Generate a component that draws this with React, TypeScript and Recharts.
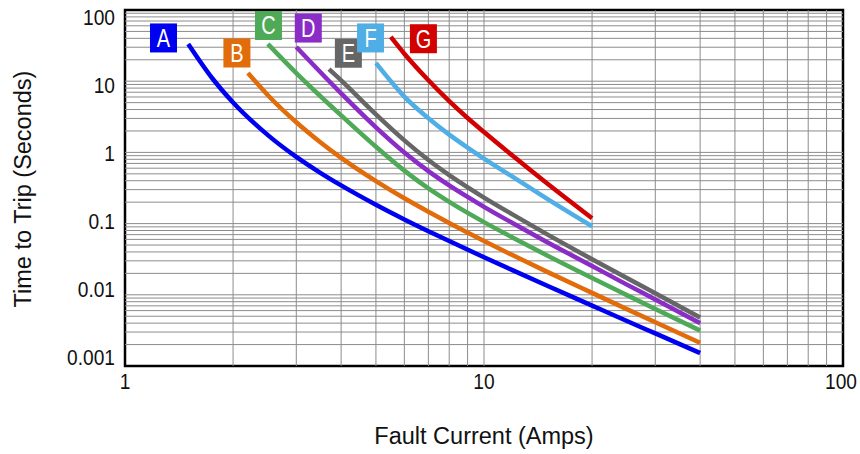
import React from 'react';
import { LineChart, Line, XAxis, YAxis, ReferenceLine, ReferenceDot, ReferenceArea } from 'recharts';

const FONT = "'Liberation Sans', Arial, sans-serif";

const curveNames = ['A', 'B', 'C', 'D', 'E', 'F', 'G'];
const curveColors = ['#0000f0', '#e26b0a', '#4faa58', '#8a2cc6', '#666666', '#4faee6', '#d20000'];

// fault current (A) / time to trip (s)
const ampsA = [1.5, 1.75, 2, 2.5, 3, 3.5, 4, 5, 6, 7, 8, 10, 12, 15, 20, 25, 30, 40];
const secsA = [33.3, 11.0, 5.02, 1.75, 0.865, 0.517, 0.344, 0.184, 0.1145, 0.0782, 0.0568, 0.0337, 0.0222, 0.0134, 0.00705, 0.00428, 0.00287, 0.00152];

const ampsB = [2.2, 2.5, 3, 3.5, 4, 5, 6, 7, 8, 10, 12, 15, 20, 25, 30, 40];
const secsB = [13.0, 6.36, 2.65, 1.39, 0.837, 0.395, 0.2265, 0.1466, 0.1019, 0.057, 0.0361, 0.021, 0.01064, 0.0063, 0.00412, 0.00212];

const ampsC = [2.5, 3, 4, 5, 6, 7, 8, 10, 12, 15, 20, 25, 30, 40];
const secsC = [33.3, 13.0, 3.31, 1.2, 0.555, 0.312, 0.202, 0.105, 0.064, 0.0356, 0.0172, 0.0099, 0.00632, 0.00314];

const ampsD = [3, 4, 5, 6, 7, 8, 10, 12, 15, 20, 25, 30, 40];
const secsD = [30.2, 6.74, 2.25, 0.997, 0.545, 0.343, 0.172, 0.102, 0.0548, 0.0254, 0.0139, 0.00861, 0.00398];

const ampsE = [3.7, 4, 5, 6, 7, 8, 10, 12, 15, 20, 25, 30, 40];
const secsE = [14.8, 10.3, 3.42, 1.475, 0.78, 0.479, 0.232, 0.1346, 0.0705, 0.0316, 0.0172, 0.01052, 0.0048];

const ampsF = [5, 5.5, 6, 7, 8, 9, 10, 12, 15, 20];
const secsF = [18.0, 10.0, 6.08, 3.02, 1.78, 1.17, 0.82, 0.456, 0.223, 0.0917];

const ampsG = [5.5, 6, 7, 8, 9, 10, 12, 15, 20];
const secsG = [41.8, 24.3, 10.3, 5.24, 3.04, 1.93, 0.902, 0.365, 0.1186];

// where the letter badges sit
const labelAmps = [1.28, 2.05, 2.51, 3.24, 4.19, 4.83, 6.78];
const labelSecs = [40.5, 24.9, 60.6, 55.8, 24.7, 40.5, 39.5];

const xTicks = [1, 10, 100];
const yTicks = [0.001, 0.01, 0.1, 1, 10, 100];
const xDecades = [1, 10];
const yDecades = [0.001, 0.01, 0.1, 1, 10];
const multipliers = [1, 2, 3, 4, 5, 6, 7, 8, 9];

const curveAmps = [ampsA, ampsB, ampsC, ampsD, ampsE, ampsF, ampsG];
const curveSecs = [secsA, secsB, secsC, secsD, secsE, secsF, secsG];

const curveData = curveAmps.map((amps, i) =>
  amps.map((a, j) => ({ amps: a, secs: curveSecs[i][j] }))
);

const round = (v: number) => parseFloat(v.toPrecision(6));
const xGrid = xDecades.flatMap(d => multipliers.map(m => round(d * m))).filter(v => v > 1);
const yGrid = yDecades.flatMap(d => multipliers.map(m => round(d * m))).filter(v => v > 0.001);

interface NarrowTextProps {
  x: number;
  y: number;
  size: number;
  squeeze?: number;
  anchor?: 'start' | 'middle' | 'end';
  rotate?: number;
  fill?: string;
  children: React.ReactNode;
}

// the original type is a condensed grotesque, so squeeze Liberation Sans horizontally
const NarrowText: React.FC<NarrowTextProps> = ({ x, y, size, squeeze = 1, anchor = 'middle', rotate, fill = '#111', children }) => (
  <text
    transform={`translate(${x} ${y})${rotate ? ` rotate(${rotate})` : ''} scale(${squeeze} 1)`}
    dy="0.36em"
    textAnchor={anchor}
    fontSize={size}
    fill={fill}
    fontFamily={FONT}
  >
    {children}
  </text>
);

const XTick = (props: any) => {
  const { x, y, payload } = props;
  const nudge = payload.value === 100 ? -2 : 0;
  return (
    <NarrowText x={x + nudge} y={y + 15} size={22} squeeze={0.87}>
      {payload.value}
    </NarrowText>
  );
};

const YTick = (props: any) => {
  const { x, y, payload } = props;
  // labels are spread a bit tighter than the gridlines so the end ones stay inside the box
  const ly = 17 + (y - 10) * (340 / 356);
  return (
    <NarrowText x={x - 10} y={ly} size={22} squeeze={0.87} anchor="end">
      {String(payload.value)}
    </NarrowText>
  );
};

const XTitle = () => (
  <NarrowText x={484} y={436} size={23.5}>
    Fault Current (Amps)
  </NarrowText>
);

const YTitle = () => (
  <NarrowText x={23} y={189} size={23.5} rotate={-90}>
    Time to Trip (Seconds)
  </NarrowText>
);

const makeBadge = (name: string, color: string) => (props: any) => {
  const { cx, cy } = props;
  return (
    <g>
      <rect x={cx - 13.5} y={cy - 14.5} width={27} height={29} fill={color} />
      <NarrowText x={cx} y={cy} size={25} squeeze={0.8} fill="#fff">
        {name}
      </NarrowText>
    </g>
  );
};

const TripCurves: React.FC = () => {
  return (
    <div style={{ position: 'absolute', left: 0, top: 0, background: '#fff' }}>
      <LineChart width={860} height={454} margin={{ top: 10, right: 17, bottom: 58, left: 65 }}>
        <XAxis
          type="number"
          dataKey="amps"
          scale="log"
          domain={[1, 100]}
          ticks={xTicks}
          interval={0}
          allowDataOverflow
          axisLine={false}
          tickLine={false}
          tickSize={0}
          tickMargin={0}
          height={30}
          tick={<XTick />}
          label={<XTitle />}
        />
        <YAxis
          type="number"
          scale="log"
          domain={[0.001, 100]}
          ticks={yTicks}
          interval={0}
          allowDataOverflow
          axisLine={false}
          tickLine={false}
          tickSize={0}
          tickMargin={0}
          width={60}
          tick={<YTick />}
          label={<YTitle />}
        />
        {xGrid.map(v => (
          <ReferenceLine key={'x' + v} x={v} stroke="#8c8c8c" strokeWidth={1} />
        ))}
        {yGrid.map(v => (
          <ReferenceLine key={'y' + v} y={v} stroke="#8c8c8c" strokeWidth={1} />
        ))}
        {curveData.map((data, i) => (
          <Line
            key={curveNames[i]}
            data={data}
            dataKey="secs"
            type="monotone"
            stroke={curveColors[i]}
            strokeWidth={4.5}
            dot={false}
            activeDot={false}
            isAnimationActive={false}
          />
        ))}
        <ReferenceArea x1={1} x2={100} y1={0.001} y2={100} fill="none" stroke="#000" strokeWidth={2.5} />
        {curveNames.map((name, i) => (
          <ReferenceDot
            key={'lbl' + name}
            x={labelAmps[i]}
            y={labelSecs[i]}
            shape={makeBadge(name, curveColors[i])}
          />
        ))}
      </LineChart>
    </div>
  );
};

export default function App() {
  return <TripCurves />;
}
